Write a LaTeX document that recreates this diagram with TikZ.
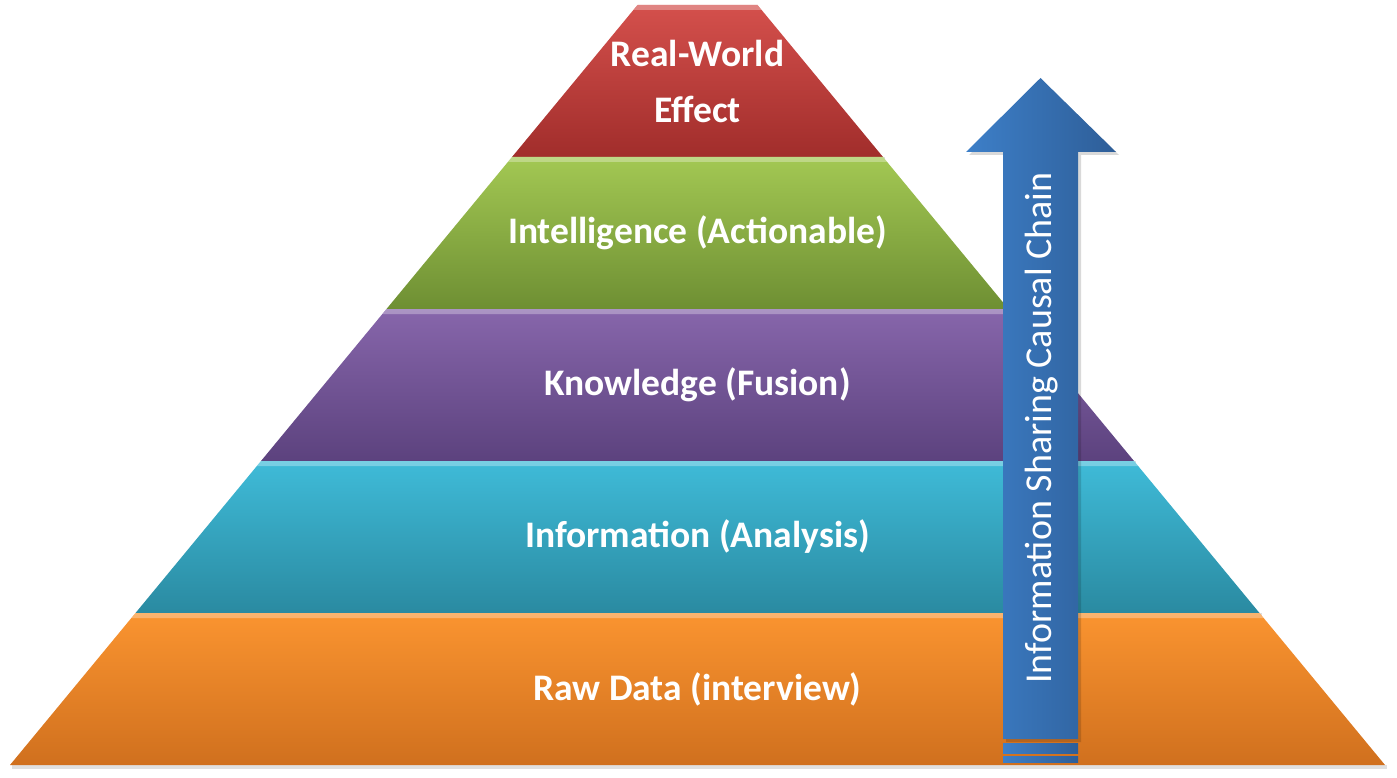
\documentclass[tikz,border=0pt]{standalone}
\usepackage{fontspec}
\setmainfont{Carlito}
\usetikzlibrary{positioning, calc}

\definecolor{redT}{HTML}{D4504C}
\definecolor{redB}{HTML}{A12D2B}
\definecolor{greenT}{HTML}{A3C853}
\definecolor{greenB}{HTML}{6E8F33}
\definecolor{purpleT}{HTML}{8766AB}
\definecolor{purpleB}{HTML}{5C427E}
\definecolor{cyanT}{HTML}{3FBBD8}
\definecolor{cyanB}{HTML}{2A8AA1}
\definecolor{orangeT}{HTML}{FA9430}
\definecolor{orangeB}{HTML}{D0701E}
\definecolor{arrowL}{HTML}{3D7FC8}
\definecolor{arrowR}{HTML}{2E5E98}

\begin{document}
\begin{tikzpicture}[x=1pt,y=-1pt,
    lbl/.style={text=white,font=\bfseries\fontsize{37.5}{56}\selectfont,align=center},
    chainlbl/.style={text=white,font=\fontsize{38}{40}\selectfont,rotate=90},
    bevel/.style={white,opacity=0.3}]
  \useasboundingbox (0,0) rectangle (1397,778);
  % pyramid layers, top to bottom
  \foreach \i/\ct/\cb in {0/redT/redB,1/greenT/greenB,2/purpleT/purpleB,3/cyanT/cyanB,4/orangeT/orangeB}{
    \pgfmathsetmacro{\yt}{5+152*\i}
    \pgfmathsetmacro{\yb}{\yt+152}
    \pgfmathsetmacro{\wt}{60+125.5*\i}
    \pgfmathsetmacro{\wb}{\wt+125.5}
    \fill[black,opacity=0.12] (697.5-\wb+2,\yb) -- (697.5+\wb+2,\yb) -- (697.5+\wb+2,\yb+4) -- (697.5-\wb+2,\yb+4) -- cycle;
    \shade[top color=\ct,bottom color=\cb] (697.5-\wt,\yt) -- (697.5+\wt,\yt) -- (697.5+\wb,\yb) -- (697.5-\wb,\yb) -- cycle;
    \fill[bevel] (697.5-\wt,\yt) -- (697.5+\wt,\yt) -- (697.5+\wt+4,\yt+5) -- (697.5-\wt-4,\yt+5) -- cycle;
  }
  \node[lbl] (real) at (697.5,81) {Real-World\\Effect};
  \node[lbl] (intel) at (697.5,233) {Intelligence (Actionable)};
  \node[lbl] (know) at (697.5,385) {Knowledge (Fusion)};
  \node[lbl] (info) at (697.5,537) {Information (Analysis)};
  \node[lbl] (raw) at (697.5,689) {Raw Data (interview)};
  % causal chain arrow
  \fill[black,opacity=0.15] (1006,742) -- (1006,155) -- (969,155) -- (1043,81) -- (1119,155) -- (1081,155) -- (1081,742) -- cycle;
  \shade[left color=arrowL,right color=arrowR] (1003,739) -- (1003,152) -- (966,152) -- (1040.5,78) -- (1116,152) -- (1078,152) -- (1078,739) -- cycle;
  \shade[left color=arrowL,right color=arrowR] (1003,743) rectangle (1078,753);
  \shade[left color=arrowL,right color=arrowR] (1003,756) rectangle (1078,762);
  \node[chainlbl] (chain) at (1042,428) {Information Sharing Causal Chain};
\end{tikzpicture}
\end{document}
